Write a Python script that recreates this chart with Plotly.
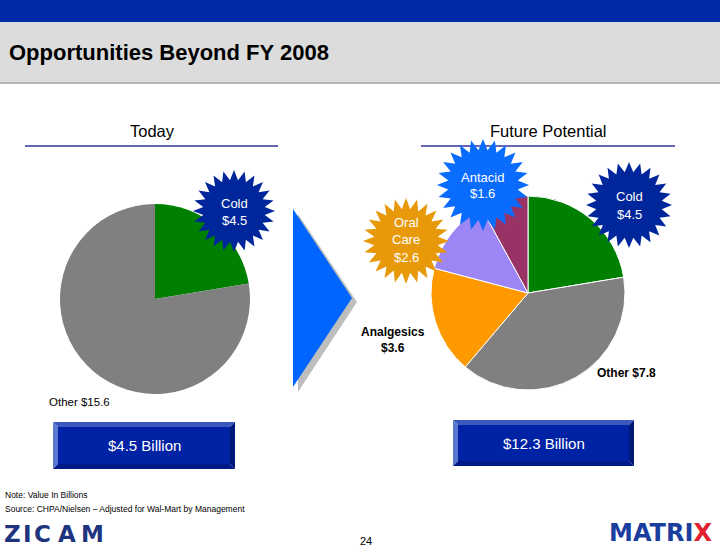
import numpy as np
import plotly.graph_objects as go

W, H = 720, 548

# ---------------- data ----------------
today_labels = ["Cold", "Other"]
today_values = [4.5, 15.6]
future_labels = ["Cold", "Other", "Analgesics", "Oral Care", "Antacid"]
future_values = [4.5, 7.8, 3.6, 2.6, 1.6]
today_total = 4.5
future_total = 12.3

today_colors = ["#008000", "#808080"]
future_colors = ["#008000", "#808080", "#FF9900", "#9C86F6", "#993366"]

FONT = "Arial, Liberation Sans, sans-serif"


def px(x):
    return x / W


def py(y):
    return 1 - y / H


def poly_path(pts):
    return "M " + " L ".join(f"{px(x):.5f},{py(y):.5f}" for x, y in pts) + " Z"


def star_path(cx, cy, R, r, n=24, phase=0.0):
    pts = []
    for i in range(2 * n):
        a = phase + np.pi * i / n
        rad = R if i % 2 == 0 else r
        pts.append((cx + rad * np.sin(a), cy - rad * np.cos(a)))
    return poly_path(pts)


shapes = []
annotations = []


def rect(x0, y0, x1, y1, color):
    shapes.append(dict(type="rect", xref="paper", yref="paper",
                       x0=px(x0), x1=px(x1), y0=py(y1), y1=py(y0),
                       fillcolor=color, line=dict(width=0), layer="below"))


def text(x, y, s, size=12, color="black", bold=False, xanchor="center", yanchor="middle",
         family=FONT, pad=1):
    if bold:
        s = f"<b>{s}</b>"
    annotations.append(dict(x=px(x), y=py(y), xref="paper", yref="paper", text=s,
                            showarrow=False, xanchor=xanchor, yanchor=yanchor, borderpad=pad,
                            font=dict(size=size, color=color, family=family)))


# header bands
rect(0, 0, 720, 22, "#0029A8")
rect(0, 22, 720, 82, "#DCDCDC")
rect(0, 82, 720, 84, "#B4B4B4")
text(7, 52, "Opportunities Beyond FY 2008", size=22, bold=True, xanchor="left")

# section titles
text(152, 131, "Today", size=16.5)
text(548, 131, "Future Potential", size=16.5)
shapes.append(dict(type="line", xref="paper", yref="paper", x0=px(25), x1=px(278), y0=py(146), y1=py(146),
                   line=dict(color="#333399", width=1.5)))
shapes.append(dict(type="line", xref="paper", yref="paper", x0=px(421), x1=px(675), y0=py(146), y1=py(146),
                   line=dict(color="#333399", width=1.5)))

# arrow with shadow
shapes.append(dict(type="path", xref="paper", yref="paper",
                   path=poly_path([(298, 214), (357, 302), (298, 392)]),
                   fillcolor="#BEBEBE", line=dict(width=0), layer="above"))
shapes.append(dict(type="path", xref="paper", yref="paper",
                   path=poly_path([(293, 209), (352, 298), (293, 387)]),
                   fillcolor="#0066FF", line=dict(width=0), layer="above"))

# starbursts
stars = [
    (234, 211, 41, 31, "#00269C"),
    (629, 205, 43, 33, "#00269C"),
    (406, 241, 43, 32, "#E8990A"),
    (483, 185, 46, 35, "#0A6CFF"),
]
for cx, cy, R, r, col in stars:
    shapes.append(dict(type="path", xref="paper", yref="paper", path=star_path(cx, cy, R, r),
                       fillcolor=col, line=dict(width=0), layer="above"))

text(234, 203, today_labels[0], size=13, color="white")
text(234, 220, f"${today_values[0]}", size=13, color="white")
text(629, 196, future_labels[0], size=13, color="white")
text(629, 214, f"${future_values[0]}", size=13, color="white")
text(483, 177, future_labels[4], size=13, color="white")
text(483, 194, f"${future_values[4]}", size=13, color="white")
text(406, 222, "Oral", size=13, color="white")
text(406, 239, "Care", size=13, color="white")
text(406, 257, f"${future_values[3]}", size=13, color="white")

# pie labels
text(47, 402, f"{today_labels[1]} ${today_values[1]}", size=11.5, xanchor="left")
text(393, 332, future_labels[2], size=12, bold=True)
text(393, 348, f"${future_values[2]}", size=12, bold=True)
text(626, 373, f"{future_labels[1]} ${future_values[1]}", size=12, bold=True)


# beveled buttons
def button(x0, y0, x1, y1, label):
    b = 5
    shapes.append(dict(type="path", xref="paper", yref="paper",
                       path=poly_path([(x0, y0), (x1, y0), (x1 - b, y0 + b), (x0 + b, y0 + b)]),
                       fillcolor="#3A58BE", line=dict(width=0), layer="above"))
    shapes.append(dict(type="path", xref="paper", yref="paper",
                       path=poly_path([(x0, y0), (x0 + b, y0 + b), (x0 + b, y1 - b), (x0, y1)]),
                       fillcolor="#5A78CC", line=dict(width=0), layer="above"))
    shapes.append(dict(type="path", xref="paper", yref="paper",
                       path=poly_path([(x1, y0), (x1, y1), (x1 - b, y1 - b), (x1 - b, y0 + b)]),
                       fillcolor="#001878", line=dict(width=0), layer="above"))
    shapes.append(dict(type="path", xref="paper", yref="paper",
                       path=poly_path([(x0, y1), (x0 + b, y1 - b), (x1 - b, y1 - b), (x1, y1)]),
                       fillcolor="#001A88", line=dict(width=0), layer="above"))
    shapes.append(dict(type="rect", xref="paper", yref="paper",
                       x0=px(x0 + b), x1=px(x1 - b), y0=py(y1 - b), y1=py(y0 + b),
                       fillcolor="#0022A4", line=dict(width=0), layer="above"))
    text((x0 + x1) / 2, (y0 + y1) / 2, label, size=15, color="white")


button(53, 422, 235, 469, f"${today_total} Billion")
button(453, 420, 634, 466, f"${future_total} Billion")

# footer
text(3, 495, "Note: Value In Billions", size=8.5, xanchor="left")
text(3, 509, "Source: CHPA/Nielsen \u2013 Adjusted for Wal-Mart by Management", size=8.5, xanchor="left")
text(366, 548, "24", size=11, yanchor="bottom", pad=0)
LOGO = "DejaVu Sans, Arial, sans-serif"
for ch, x in zip("ZICAM", [13, 27, 42, 67, 92]):
    text(x, 548, ch, size=23, color="#1E347E", bold=True, family=LOGO, yanchor="bottom", pad=0)
text(713, 548, "MATRI<span style='color:#E0202A'>X</span>", size=24, color="#1A3D9E", bold=True,
     family=LOGO, xanchor="right", yanchor="bottom", pad=0)

fig = go.Figure()
fig.add_trace(go.Pie(labels=today_labels, values=today_values, sort=False, direction="clockwise",
                     rotation=0, marker=dict(colors=today_colors, line=dict(color="white", width=0)),
                     textinfo="none", hoverinfo="label+value",
                     domain=dict(x=[px(60), px(250)], y=[py(394), py(204)])))
fig.add_trace(go.Pie(labels=future_labels, values=future_values, sort=False, direction="clockwise",
                     rotation=0, marker=dict(colors=future_colors, line=dict(color="white", width=1)),
                     textinfo="none", hoverinfo="label+value",
                     domain=dict(x=[px(431), px(625)], y=[py(390), py(196)])))

fig.update_layout(width=W, height=H, margin=dict(l=0, r=0, t=0, b=0),
                  paper_bgcolor="white", plot_bgcolor="white", showlegend=False,
                  shapes=shapes, annotations=annotations,
                  font=dict(family=FONT))
fig.write_html("out.html", config={"displayModeBar": False},
               post_script="document.body.style.margin='0';document.body.style.overflow='hidden';")
